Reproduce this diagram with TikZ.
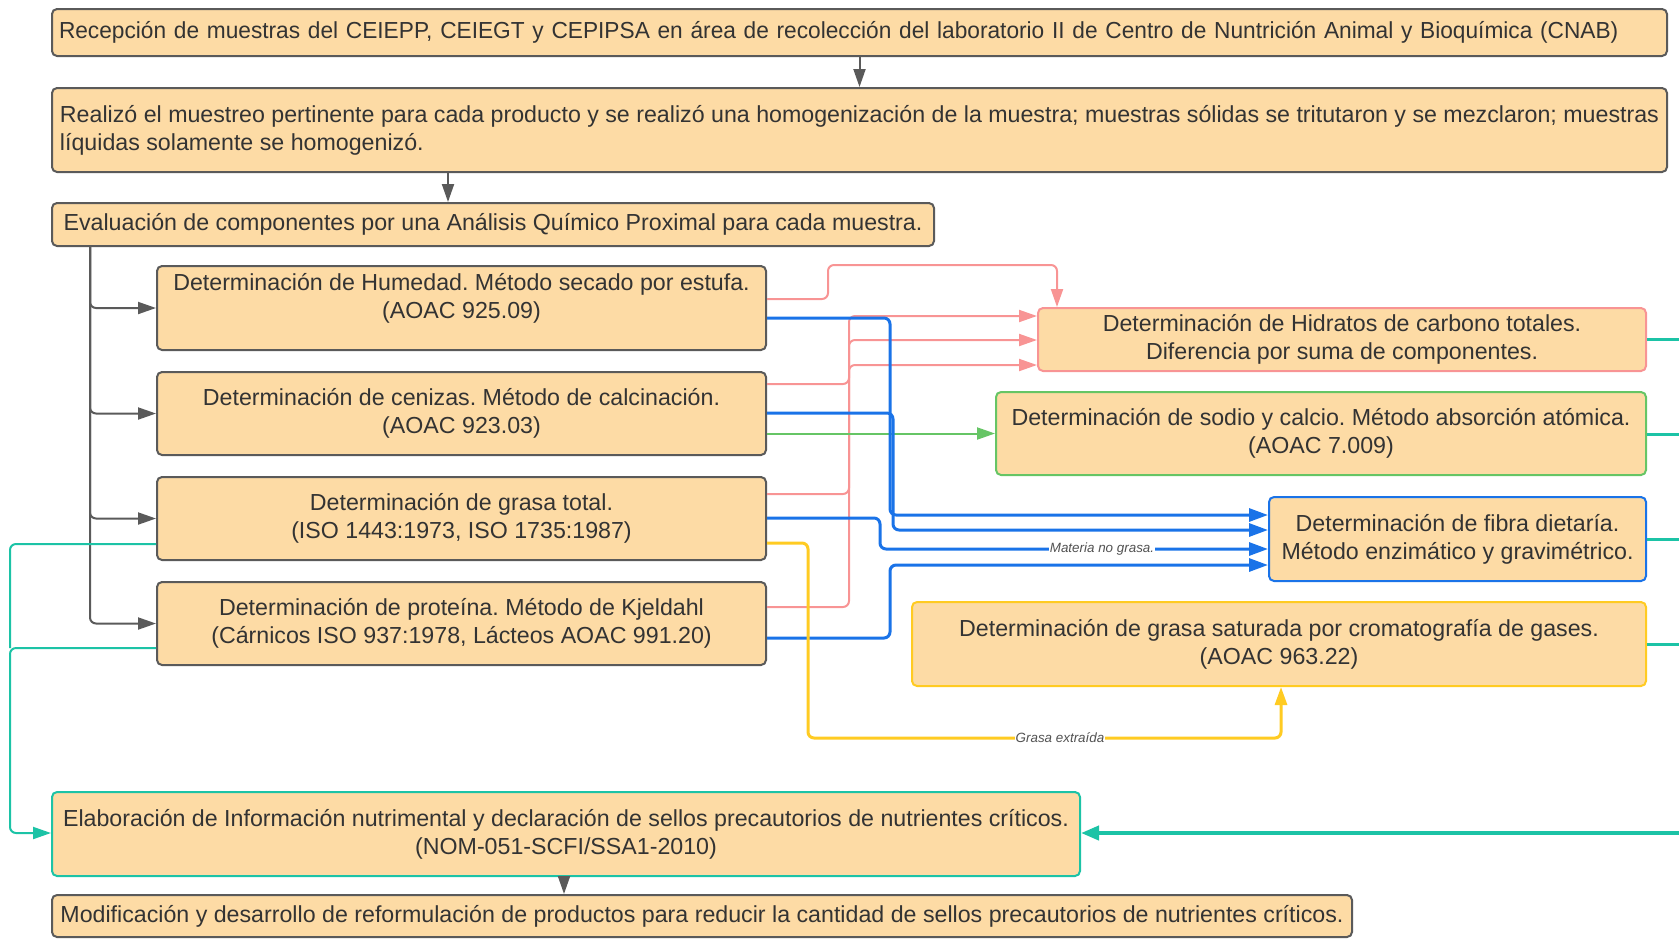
\documentclass[tikz,border=0pt]{standalone}
\usepackage{fontspec}
\setmainfont{Liberation Sans}
\newfontfamily\tightsans[FakeStretch=0.978]{Liberation Sans}
\frenchspacing
\usetikzlibrary{arrows.meta}

\definecolor{boxfill}{HTML}{FDDBA5}
\definecolor{grayline}{HTML}{5A5A5A}
\definecolor{txt}{HTML}{333333}
\definecolor{pinkline}{HTML}{F89494}
\definecolor{blueline}{HTML}{1A73E8}
\definecolor{greenline}{HTML}{66C565}
\definecolor{yellowline}{HTML}{FFCB22}
\definecolor{tealline}{HTML}{1CC3A6}

\tikzset{
  box/.style={draw=grayline, line width=1pt, fill=boxfill, rounded corners=2.5pt,
    text=txt, inner sep=0pt, font=\fontsize{11.6}{13.9}\selectfont},
  tightbox/.style={font=\tightsans\fontsize{11.6}{13.9}\selectfont},
  boxtext/.style={text=txt, inner sep=0pt, align=center, font=\fontsize{11.6}{13.9}\selectfont},
  tip/.style={-{Triangle[length=9pt,width=6pt]}},
  conn/.style={rounded corners=3pt},
  garr/.style={conn, tip, draw=grayline, line width=1pt},
  parr/.style={conn, tip, draw=pinkline, line width=1pt},
  barr/.style={conn, -{Triangle[length=9.5pt,width=6.5pt]}, draw=blueline, line width=1.5pt},
  grarr/.style={conn, tip, draw=greenline, line width=1pt},
  yarr/.style={conn, tip, draw=yellowline, line width=1.5pt},
  tline/.style={conn, draw=tealline, line width=1.5pt},
  tthin/.style={conn, draw=tealline, line width=1pt},
  tarr/.style={tthin, tip},
  lbl/.style={fill=white, inner xsep=0.5pt, inner ysep=0.5pt, text=txt!85,
    font=\fontsize{6.7}{8}\selectfont\itshape},
}

% \flowbox{name}{x1}{y1}{x2}{y2}{options}{text}
\newcommand{\flowbox}[7]{%
  \node[box, #6, minimum width={(#4-#2)*0.5pt}, minimum height={(#5-#3)*0.5pt}]
    (#1) at ({(#2+#4)/2},{(#3+#5)/2}) {#7};}

\begin{document}
\begin{tikzpicture}[x=0.5pt, y=-0.5pt]
\useasboundingbox (0,0) rectangle (1679,939);

% main column
\flowbox{recep}{52}{9}{1667}{56}{tightbox, align=left, text width={(1615-14)*0.5pt}}{Recepción de muestras del CEIEPP, CEIEGT y CEPIPSA en área de recolección del laboratorio II de Centro de Nuntrición Animal y Bioquímica (CNAB)}
\flowbox{real}{52}{88}{1667}{172}{align=left}{Realizó el muestreo pertinente para cada producto y se realizó una homogenización de la muestra; muestras sólidas se tritutaron y se mezclaron; muestras\\líquidas solamente se homogenizó.}
\flowbox{eval}{52}{203}{934}{246}{align=center}{Evaluación de componentes por una Análisis Químico Proximal para cada muestra.}

% proximal analyses
\flowbox{hum}{157}{266}{766}{350}{}{}
\node[boxtext] (humtxt) at (461.5,298) {Determinación de Humedad. Método secado por estufa.\\(AOAC 925.09)};
\flowbox{cen}{157}{372}{766}{455}{align=center}{Determinación de cenizas. Método de calcinación.\\(AOAC 923.03)}
\flowbox{gra}{157}{477}{766}{560}{align=center}{Determinación de grasa total.\\(ISO 1443:1973, ISO 1735:1987)}
\flowbox{pro}{157}{582}{766}{665}{align=center}{Determinación de proteína. Método de Kjeldahl\\(Cárnicos ISO 937:1978, Lácteos AOAC 991.20)}

% derived determinations
\flowbox{hid}{1038}{308}{1646}{371}{draw=pinkline, align=center}{Determinación de Hidratos de carbono totales.\\Diferencia por suma de componentes.}
\flowbox{sod}{996}{392}{1646}{475}{draw=greenline, align=center}{Determinación de sodio y calcio. Método absorción atómica.\\(AOAC 7.009)}
\flowbox{fib}{1269}{497}{1646}{581}{draw=blueline, align=center}{Determinación de fibra dietaría.\\Método enzimático y gravimétrico.}
\flowbox{gsat}{912}{602}{1646}{686}{draw=yellowline, align=center}{Determinación de grasa saturada por cromatografía de gases.\\(AOAC 963.22)}

% final steps
\flowbox{elab}{52}{792}{1080}{876}{draw=tealline, align=center}{Elaboración de Información nutrimental y declaración de sellos precautorios de nutrientes críticos.\\(NOM-051-SCFI/SSA1-2010)}
\flowbox{modif}{52}{895}{1352}{937}{align=center}{Modificación y desarrollo de reformulación de productos para reducir la cantidad de sellos precautorios de nutrientes críticos.}

% loose ends leaving the right border
\coordinate (outH) at (1679,339);
\coordinate (outS) at (1679,434);
\coordinate (outF) at (1679,539);
\coordinate (outG) at (1679,644);
\coordinate (inE) at (1679,833);

% main flow
\draw[garr] (recep.south) -- (real.north);
\draw[garr] (448,0 |- real.south) -- (448,0 |- eval.north);
\draw[garr] (90,0 |- eval.south) |- (hum.west);
\draw[garr] (90,0 |- eval.south) |- (cen.west);
\draw[garr] (90,0 |- eval.south) |- (gra.west);
\draw[garr] (90,0 |- eval.south) |- (pro.west);
\draw[garr] (564,0 |- elab.south) -- (564,0 |- modif.north);

% carbohydrates by difference
\draw[parr] (hum.east |- 0,299) -- (828,299) -- (828,265) -- (1057,265) -- (1057,0 |- hid.north);
\draw[parr] (cen.east |- 0,384) -- (849,384) -- (849,316) -- (hid.west |- 0,316);
\draw[parr] (gra.east |- 0,494) -- (849,494) -- (849,340) -- (hid.west |- 0,340);
\draw[parr] (pro.east |- 0,607) -- (849,607) -- (849,365) -- (hid.west |- 0,365);

% sodium and calcium from ashes
\draw[grarr] (cen.east |- sod.west) -- (sod.west);

% dietary fibre
\draw[barr] (hum.east |- 0,318) -- (890,318) -- (890,515) -- (fib.west |- 0,515);
\draw[barr] (cen.east |- 0,413) -- (893,413) -- (893,530) -- (fib.west |- 0,530);
\draw[barr] (gra.east |- 0,518) -- (880,518) -- (880,549) -- (fib.west |- 0,549);
\draw[barr] (pro.east |- 0,638) -- (890,638) -- (890,565) -- (fib.west |- 0,565);
\node[lbl] (lblfib) at (1102,549) {Materia no grasa.};

% saturated fat from extracted fat
\draw[yarr] (gra.east |- 0,543) -- (808,543) -- (808,738) -- (1281,738) -- (1281,0 |- gsat.south);
\node[lbl] (lblgsat) at (1060,738) {Grasa extraída};

% nutritional information
\draw[tthin] (gra.west |- 0,544) -- (10,544) -- (10,648);
\draw[tarr] (pro.west |- 0,648) -- (10,648) -- (10,833) -- (elab.west |- 0,833);
\draw[tline] (hid.east |- outH) -- (outH);
\draw[tline] (sod.east |- outS) -- (outS);
\draw[tline] (fib.east |- outF) -- (outF);
\draw[tline] (gsat.east |- outG) -- (outG);
\draw[conn, draw=tealline, line width=2pt, -{Triangle[length=9pt,width=7pt]}] (inE) -- (elab.east |- inE);
\end{tikzpicture}
\end{document}
